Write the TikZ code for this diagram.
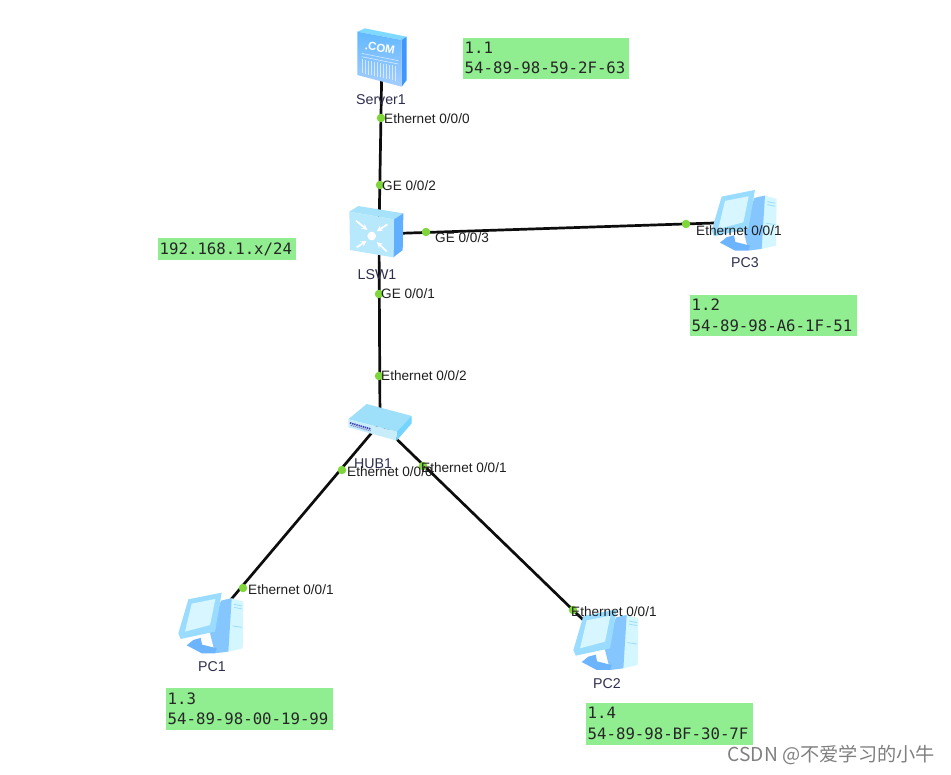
\documentclass[tikz,border=0pt]{standalone}
\usepackage{fontspec}
\setmainfont{Liberation Sans}
\newfontfamily\monof{DejaVu Sans Mono}
\newfontfamily\cjkf{Noto Sans CJK SC}
\usetikzlibrary{arrows.meta}
\definecolor{boxgreen}{HTML}{90EE90}
\definecolor{dotgreen}{HTML}{7FD63A}
\definecolor{namecol}{HTML}{2E2E4E}
\definecolor{pcframe}{HTML}{9ADCFF}
\definecolor{pcscreen}{HTML}{D8F6FF}
\definecolor{pcpanel}{HTML}{86C6FF}
\definecolor{pctower}{HTML}{D4F6FF}
\definecolor{pcstand}{HTML}{6DB4FF}
\newcommand\noteup[1]{\raisebox{1.2pt}{#1}}
\tikzset{
  x=1pt,y=-1pt,
  anchorpt/.style={inner sep=0pt,minimum size=0pt},
  link/.style={draw=black!95,line width=2.7pt},
  portdot/.style={circle,fill=dotgreen,inner sep=0pt,minimum size=8.5pt},
  portlabel/.style={anchor=west,inner sep=0pt,font=\fontsize{13.6}{15}\selectfont,text=black!88},
  devname/.style={inner sep=0pt,font=\fontsize{14.2}{15}\selectfont,text=namecol},
  notebox/.style={fill=boxgreen,inner sep=0pt,anchor=north west,align=left,font=\monof\fontsize{15.7}{20.5}\selectfont,text=black!85},
  pcicon/.pic={
    \begin{scope}[scale=0.3333,shift={(-155,-160)}]
      \fill[pctower] (195,88)--(215,85)--(250,95)--(248,235)--(205,245)--cycle;
      \fill[pcpanel] (183,92)--(215,85)--(205,245)--(165,250)--(150,190)--cycle;
      \draw[pcframe,line width=.8pt] (222,103)--(246,108) (222,112)--(246,117) (218,168)--(246,172);
      \fill[pcstand] (100,210)--(122,204)--(126,224)--(170,235)--(165,250)--(125,250)--(80,226)--cycle;
      \fill[pcframe] (85,88)--(185,68)--(165,185)--(62,207)--(55,190)--cycle;
      \fill[pcscreen] (95,101)--(166,87)--(150,165)--(75,185)--cycle;
    \end{scope}
  },
  servericon/.pic={
    \begin{scope}[scale=0.3333,shift={(-155,-140)}]
      \fill[blue!30!cyan!50!white] (82,65)--(105,55)--(230,80)--(215,90)--cycle;
      \fill[blue!55!cyan!75!white] (215,90)--(230,80)--(230,210)--(215,230)--cycle;
      \shade[top color=blue!45!cyan!62!white,bottom color=cyan!45!blue!35!white] (82,65)--(215,90)--(215,230)--(82,195)--cycle;
      \draw[white,opacity=.65,line width=.6pt] (95,130)--(205,152) (95,140)--(205,162);
      \foreach \k in {0,...,11}{
        \draw[white,opacity=.6,line width=.8pt] ({98+\k*9},{148+\k*1.8})--({98+\k*9},{190+\k*2});
      }
    \end{scope}
  },
  switchicon/.pic={
    \begin{scope}[scale=0.3333,shift={(-140,-185)}]
      \fill[cyan!35!white] (58,125)--(85,108)--(220,130)--(192,148)--cycle;
      \fill[blue!50!cyan!62!white] (192,148)--(220,130)--(218,240)--(190,262)--cycle;
      \fill[cyan!28!white] (58,125)--(192,148)--(190,262)--(60,240)--cycle;
      \draw[white,line width=1.7pt,-{Stealth[length=6pt,width=6pt]}] (78,152)--(112,180);
      \draw[white,line width=1.7pt,-{Stealth[length=6pt,width=6pt]}] (172,163)--(140,184);
      \draw[white,line width=1.7pt,-{Stealth[length=6pt,width=6pt]}] (80,232)--(110,212);
      \draw[white,line width=1.7pt,-{Stealth[length=6pt,width=6pt]}] (170,244)--(140,216);
      \fill[white] (125,198) circle (13);
    \end{scope}
  },
  hubicon/.pic={
    \begin{scope}[scale=0.3333,shift={(-150,-100)}]
      \fill[cyan!38!white] (55,88)--(110,42)--(245,78)--(200,125)--cycle;
      \fill[blue!30!cyan!55!white] (200,125)--(245,78)--(245,100)--(200,152)--cycle;
      \fill[cyan!22!white] (55,88)--(200,125)--(200,152)--(55,112)--cycle;
      \draw[blue!60!black!75,line width=1.7pt,dash pattern=on 1.4pt off .8pt] (60,99)--(122,117);
      \draw[blue!60!black!50,line width=1pt,dash pattern=on 1.4pt off .8pt] (62,106)--(122,123);
    \end{scope}
  }
}
\begin{document}
\begin{tikzpicture}
\fill[white] (0,0) rectangle (951,775);
\useasboundingbox (0,0) rectangle (951,775);
% connector anchors at the device centres
\node[anchorpt] (srv) at (382,55) {};
\node[anchorpt] (lsw) at (379,234) {};
\node[anchorpt] (hub) at (380,423) {};
\node[anchorpt] (pc1) at (212,622) {};
\node[anchorpt] (pc2) at (607,643) {};
\node[anchorpt] (pc3) at (745,222) {};
% links
\draw[link] (srv.center)--(lsw.center);
\draw[link] (lsw.center)--(hub.center);
\draw[link] (lsw.center)--(pc3.center);
\draw[link] (hub.center)--(pc1.center);
\draw[link] (hub.center)--(pc2.center);
% icons
\pic at (381.7,56.7) {servericon};
\pic at (376.7,231.7) {switchicon};
\pic at (380,423.3) {hubicon};
\pic at (211.7,623.3) {pcicon};
\pic at (606.7,640) {pcicon};
\pic at (745,220.6) {pcicon};
\node[inner sep=0pt,text=white,rotate=-10,font=\bfseries\fontsize{11.5}{12}\selectfont] (comtext) at (380,48) {.COM};
% device names
\node[devname] (srvname) at (381,100) {Server1};
\node[devname] (lswname) at (377,275) {LSW1};
\node[devname] (hubname) at (373,464) {HUB1};
\node[devname] (pc1name) at (212,667) {PC1};
\node[devname] (pc2name) at (607,684) {PC2};
\node[devname] (pc3name) at (745,263) {PC3};
% port dots
\node[portdot] (d1) at (381,118) {};
\node[portdot] (d2) at (380,185) {};
\node[portdot] (d3) at (426,232) {};
\node[portdot] (d4) at (379,294) {};
\node[portdot] (d5) at (379,376) {};
\node[portdot] (d6) at (342,470) {};
\node[portdot] (d7) at (423,466) {};
\node[portdot] (d8) at (243,588) {};
\node[portdot] (d9) at (573,610) {};
\node[portdot] (d10) at (686,224) {};
% port labels
\node[portlabel] (l1) at (384,119) {Ethernet 0/0/0};
\node[portlabel] (l2) at (382,186) {GE 0/0/2};
\node[portlabel] (l3) at (435,238) {GE 0/0/3};
\node[portlabel] (l4) at (381,294) {GE 0/0/1};
\node[portlabel] (l5) at (381,376) {Ethernet 0/0/2};
\node[portlabel] (l6) at (347,472) {Ethernet 0/0/0};
\node[portlabel] (l7) at (421,468) {Ethernet 0/0/1};
\node[portlabel] (l8) at (248,590) {Ethernet 0/0/1};
\node[portlabel] (l9) at (571,612) {Ethernet 0/0/1};
\node[portlabel] (l10) at (696,231) {Ethernet 0/0/1};
% green notes
\node[notebox,minimum width=166pt,minimum height=41pt,text width=163pt] (n1) at (463,37.5) {\noteup{1.1}\\\noteup{54-89-98-59-2F-63}};
\node[notebox,minimum width=167pt,minimum height=41pt,text width=164pt] (n2) at (690,295) {\noteup{1.2}\\\noteup{54-89-98-A6-1F-51}};
\node[notebox,minimum width=167pt,minimum height=42pt,text width=164pt] (n3) at (166,688) {\noteup{1.3}\\\noteup{54-89-98-00-19-99}};
\node[notebox,minimum width=167pt,minimum height=42pt,text width=164pt] (n4) at (586,702.5) {\noteup{1.4}\\\noteup{54-89-98-BF-30-7F}};
\node[notebox,minimum width=138pt,minimum height=22pt,text width=135pt] (n5) at (158,238) {\raisebox{2pt}{192.168.1.x/24}};
% watermark
\node[inner sep=0pt,anchor=east,text=black!50,font=\cjkf\fontsize{19.2}{21}\selectfont] (wm) at (935,755) {CSDN @不爱学习的小牛};
\end{tikzpicture}
\end{document}
